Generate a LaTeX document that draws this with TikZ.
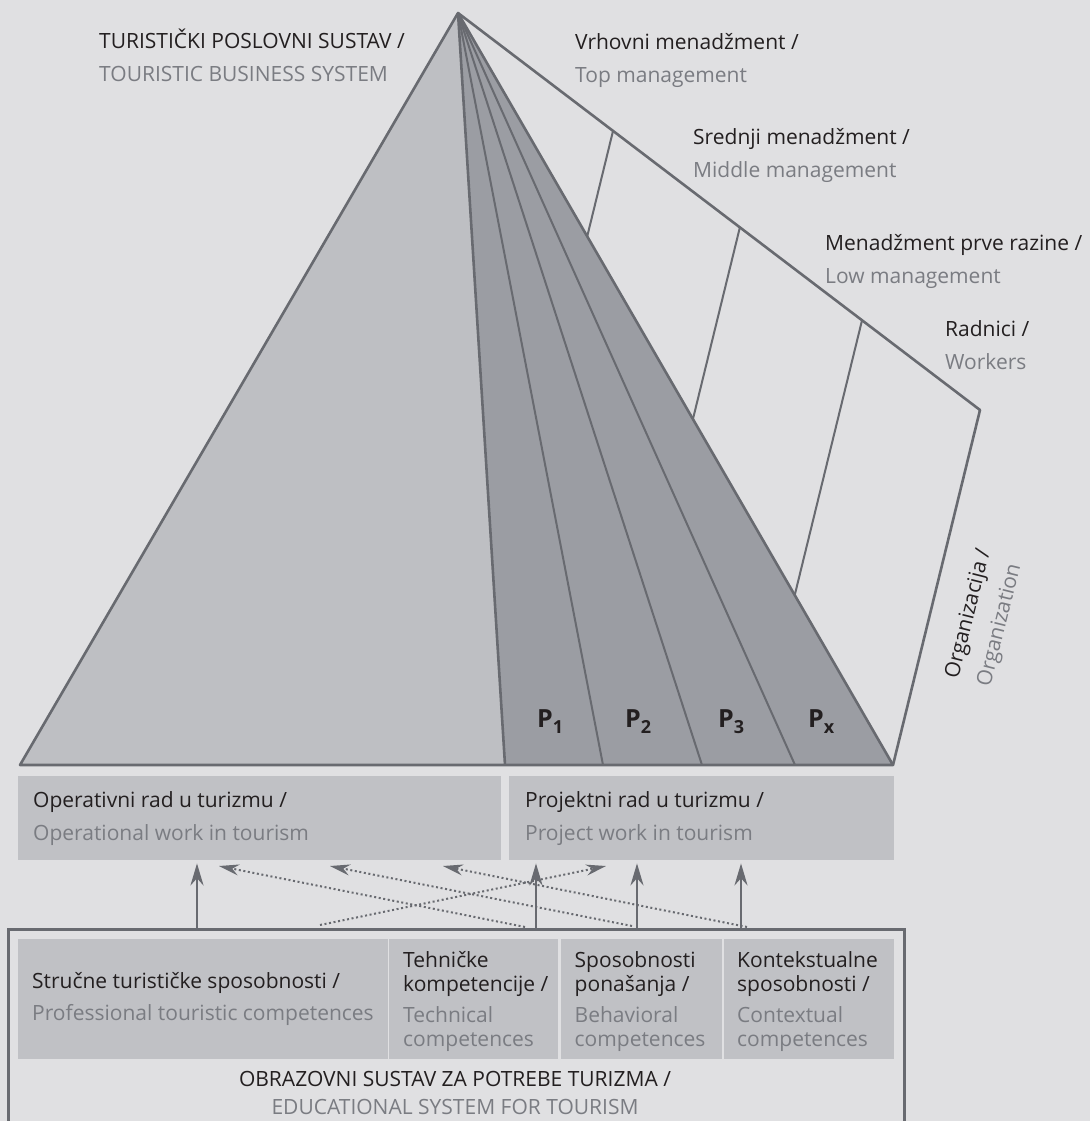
\documentclass[tikz,border=0pt]{standalone}
\usepackage{fontspec}
\setmainfont{Open Sans}
\usetikzlibrary{arrows.meta, calc}

\definecolor{paper}{RGB}{224,224,226}
\definecolor{edge}{RGB}{104,106,112}
\definecolor{pyrlight}{RGB}{190,191,195}
\definecolor{pyrdark}{RGB}{155,157,163}
\definecolor{boxfill}{RGB}{192,193,197}
\definecolor{engtext}{RGB}{122,124,130}
\definecolor{hrtext}{RGB}{35,31,32}

\newcommand{\engl}[1]{\textcolor{engtext}{#1}}
\newcommand{\psub}[1]{\raisebox{-6pt}{\fontsize{18}{18}\selectfont #1}}

\tikzset{
  outline/.style={draw=edge, line width=2.6pt, line join=round},
  slice/.style={draw=edge, line width=2pt},
  lbl/.style={anchor=base west, inner sep=0pt, align=left, text=hrtext, font=\fontsize{21}{33}\selectfont},
  workbox/.style={fill=boxfill, inner sep=0pt, anchor=north west},
  boxtext/.style={anchor=west, inner sep=0pt, align=left, text=hrtext, font=\fontsize{21}{33}\selectfont},
  comptext/.style={anchor=west, inner sep=0pt, align=left, text=hrtext, font=\fontsize{21}{24}\selectfont},
  uparrow/.style={draw=edge, line width=2.6pt, shorten >=3pt, -{Stealth[length=22pt, width=13pt]}},
  dotarrow/.style={draw=edge, line width=2pt, dash pattern=on 2pt off 2.6pt, -{Stealth[length=20pt, width=11pt]}},
  plbl/.style={inner sep=0pt, anchor=base west, text=hrtext, font=\fontsize{25}{25}\selectfont\bfseries},
}

\begin{document}
\begin{tikzpicture}[x=1pt, y=-1pt]
  \fill[paper] (0,0) rectangle (1090,1121);
  \useasboundingbox (0,0) rectangle (1090,1121);

  % pyramid and organisation wing
  \coordinate (apex) at (458,13);
  \coordinate (bl) at (20,765);
  \coordinate (br) at (893,765);
  \coordinate (split) at (505,765);
  \coordinate (orgtop) at (980,410);

  \fill[pyrlight] (bl) -- (apex) -- (split) -- cycle;
  \fill[pyrdark] (split) -- (apex) -- (br) -- cycle;
  \foreach \x in {603,702,795}
    \draw[slice] (apex) -- (\x,765);
  \draw[outline] (split) -- (apex);
  \draw[outline] (bl) -- (apex) -- (br) -- cycle;
  \draw[outline] (apex) -- (orgtop) -- (br);
  \foreach \f in {0.297,0.540,0.774} {
    \coordinate (lv) at ($(apex)!\f!(orgtop)$);
    \coordinate (lw) at ($(lv)+(br)-(orgtop)$);
    \draw[slice] (lv) -- (intersection of lv--lw and apex--br);
  }

  \node[plbl] (p1) at (537,727) {P\psub{1}};
  \node[plbl] (p2) at (625,727) {P\psub{2}};
  \node[plbl] (p3) at (718,727) {P\psub{3}};
  \node[plbl] (px) at (808,727) {P\psub{x}};

  % base of a two-line label = its second line
  \node[lbl] (tbs) at (99,82) {TURISTIČKI POSLOVNI SUSTAV /\\\engl{TOURISTIC BUSINESS SYSTEM}};
  \node[lbl] (top) at (575,83) {Vrhovni menadžment /\\\engl{Top management}};
  \node[lbl] (mid) at (693,177) {Srednji menadžment /\\\engl{Middle management}};
  \node[lbl] (low) at (825,283) {Menadžment prve razine /\\\engl{Low management}};
  \node[lbl] (wrk) at (945,369) {Radnici /\\\engl{Workers}};
  \node[lbl, rotate=76] (org) at (990,688) {Organizacija /\\\engl{Organization}};

  % kinds of work
  \node[workbox, minimum width=482.5pt, minimum height=84pt] (opbox) at (18,776) {};
  \node[boxtext] (optxt) at ([xshift=15pt]opbox.west) {Operativni rad u turizmu /\\\engl{Operational work in tourism}};
  \node[workbox, minimum width=384.6pt, minimum height=84pt] (projbox) at (509,776) {};
  \node[boxtext] (projtxt) at ([xshift=16pt]projbox.west) {Projektni rad u turizmu /\\\engl{Project work in tourism}};

  % educational system
  \node[draw=edge, line width=2.6pt, inner sep=0pt, anchor=north west, minimum width=896pt, minimum height=260pt] (edu) at (7,928) {};
  \node[workbox, minimum width=369.5pt, minimum height=120pt] (c1) at (18,939) {};
  \node[workbox, minimum width=169pt, minimum height=120pt] (c2) at (389,939) {};
  \node[workbox, minimum width=160.6pt, minimum height=120pt] (c3) at (561,939) {};
  \node[workbox, minimum width=169.6pt, minimum height=120pt] (c4) at (724,939) {};
  \node[comptext] (c1txt) at ([xshift=14pt]c1.west) {Stručne turističke sposobnosti /\\[8pt]\engl{Professional touristic competences}};
  \node[comptext] (c2txt) at ([xshift=14pt,yshift=-2pt]c2.west) {Tehničke\\kompetencije /\\[7pt]\engl{Technical}\\\engl{competences}};
  \node[comptext] (c3txt) at ([xshift=13.5pt,yshift=-2pt]c3.west) {Sposobnosti\\ponašanja /\\[7pt]\engl{Behavioral}\\\engl{competences}};
  \node[comptext] (c4txt) at ([xshift=13pt,yshift=-2pt]c4.west) {Kontekstualne\\sposobnosti /\\[7pt]\engl{Contextual}\\\engl{competences}};
  \node[lbl, anchor=base, align=center, font=\fontsize{21}{28}\selectfont] (edutxt) at (455,1114) {OBRAZOVNI SUSTAV ZA POTREBE TURIZMA /\\\engl{EDUCATIONAL SYSTEM FOR TOURISM}};

  % links from competences to work
  \coordinate (a1) at (197,0);
  \coordinate (a2) at (536,0);
  \coordinate (a3) at (637,0);
  \coordinate (a4) at (741,0);
  \draw[uparrow] (edu.north -| a1) -- (opbox.south -| a1);
  \draw[uparrow] (edu.north -| a2) -- (projbox.south -| a2);
  \draw[uparrow] (edu.north -| a3) -- (projbox.south -| a3);
  \draw[uparrow] (edu.north -| a4) -- (projbox.south -| a4);

  \coordinate (s1) at (525,927);
  \coordinate (e1) at (219,866);
  \coordinate (s2) at (632,926);
  \coordinate (e2) at (330,866);
  \coordinate (s3) at (747,927);
  \coordinate (e3) at (443,866);
  \coordinate (s4) at (320,925);
  \coordinate (e4) at (606,866);
  \draw[dotarrow] (s1) -- (e1);
  \draw[dotarrow] (s2) -- (e2);
  \draw[dotarrow] (s3) -- (e3);
  \draw[dotarrow] (s4) -- (e4);
\end{tikzpicture}
\end{document}
